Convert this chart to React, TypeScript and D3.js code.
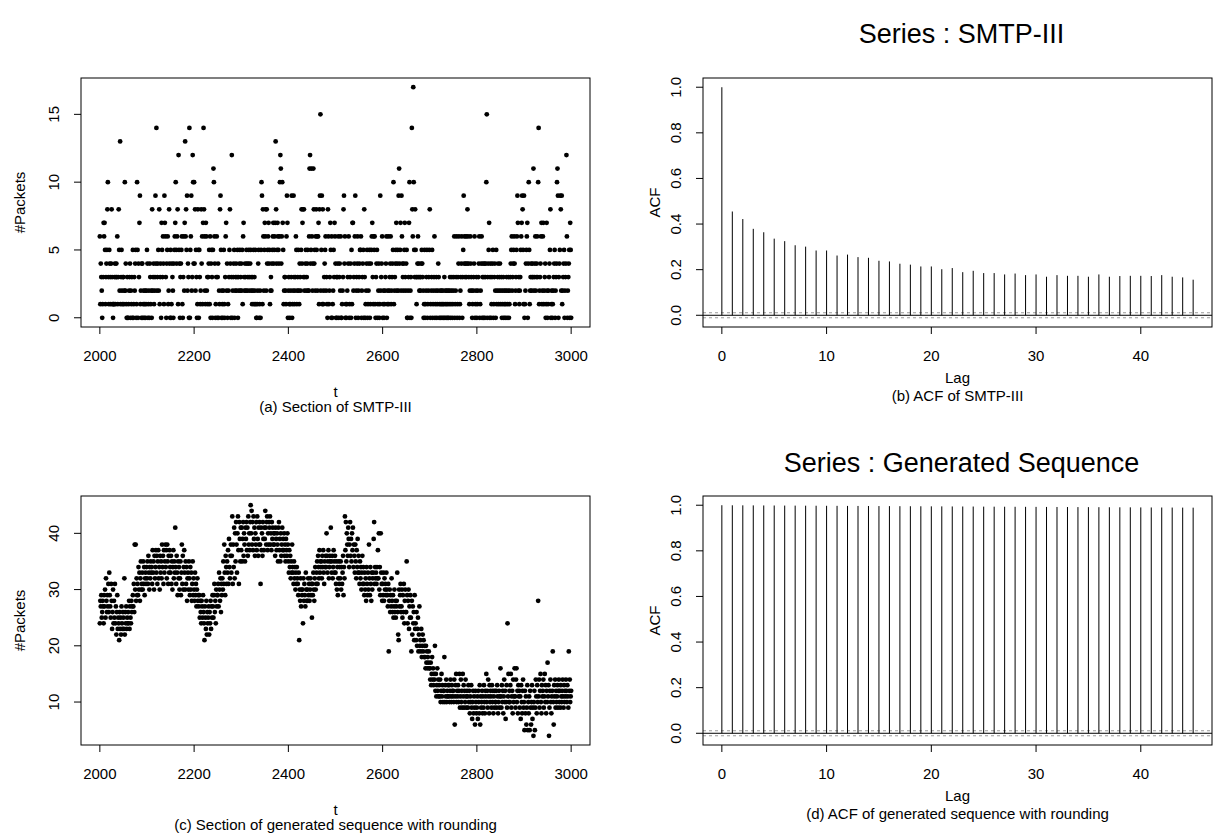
import React from "react";
import * as d3 from "d3";

// ---- data ---------------------------------------------------------------

// first time index of both sections (t = T_START + i)
const T_START = 2000;

// (a) SMTP-III packet counts, t = 2000 … 3000
const smtpSection: number[] = [
  6,1,4,3,2,0,1,3,7,6,
  7,5,1,3,4,5,8,10,3,1,
  5,4,3,1,4,8,3,1,0,1,
  1,3,4,1,3,4,3,6,1,3,
  8,5,2,13,1,3,5,2,1,3,
  3,1,2,10,2,4,1,0,3,0,
  0,1,2,3,4,0,2,1,3,0,
  5,0,1,3,2,4,5,0,1,10,
  5,0,4,3,7,9,1,2,0,4,
  4,0,1,2,0,1,2,0,1,2,
  5,4,0,1,2,0,4,3,1,2,
  0,8,2,3,4,1,2,3,9,4,
  14,2,3,4,5,2,8,1,3,4,
  0,7,5,3,6,4,1,9,7,6,
  3,0,4,5,6,1,2,8,4,0,
  5,0,1,4,3,2,0,4,5,6,
  7,10,5,4,6,8,1,12,5,4,
  0,3,4,5,6,1,0,3,6,2,
  7,13,6,8,5,9,2,4,3,0,
  14,0,5,6,9,2,3,12,10,4,
  10,4,8,2,5,3,0,1,8,5,
  0,5,3,1,2,8,4,6,1,7,
  14,8,6,2,1,7,6,2,3,1,
  3,4,5,1,6,0,4,5,3,0,
  5,11,10,6,4,0,1,3,6,0,
  3,4,0,2,1,8,9,5,0,2,
  1,0,2,5,1,0,3,6,7,2,
  4,0,1,2,3,5,8,4,0,3,
  12,0,2,3,4,5,0,2,3,4,
  2,3,5,
  0,3,2,4,5,2,3,4,2,5,
  1,6,7,3,2,4,3,2,5,4,
  2,3,4,5,3,2,4,5,3,2,
  1,3,2,5,1,3,2,5,1,0,
  0,1,2,4,5,0,1,2,0,5,
  10,9,1,8,6,2,5,7,6,8,
  2,8,4,5,6,7,4,5,1,2,
  3,2,4,5,6,7,4,5,6,7,
  13,8,4,5,7,6,5,4,6,10,
  12,11,4,6,10,7,5,1,2,3,
  3,2,1,6,9,7,0,2,3,1,
  0,1,2,3,9,0,1,2,9,3,
  1,2,3,6,5,1,2,3,5,2,
  1,4,3,2,5,8,4,7,8,3,
  8,2,3,4,5,2,3,4,5,2,
  2,6,11,12,4,5,11,6,2,4,
  11,8,4,5,2,6,8,5,6,2,
  6,7,1,8,9,15,2,5,9,1,
  8,1,2,3,4,5,6,2,3,1,
  0,8,6,1,2,3,7,5,0,6,
  0,1,2,5,3,7,6,4,0,3,
  0,3,4,6,0,3,4,2,6,0,
  0,1,2,3,8,9,4,6,0,1,
  0,1,2,3,4,6,0,1,3,4,
  0,5,1,7,7,2,3,4,6,9,
  0,2,3,4,6,0,2,3,4,5,
  5,6,0,2,3,4,5,0,8,3,
  0,1,2,4,5,0,1,2,4,5,
  0,1,4,5,6,7,3,1,6,5,
  6,1,0,3,4,5,0,1,2,4,
  0,1,9,2,3,4,6,0,1,2,
  0,1,2,3,4,6,0,1,2,6,
  1,2,3,4,6,1,2,3,4,5,
  10,1,2,3,4,5,7,2,4,5,
  2,9,11,4,5,7,2,9,6,4,
  3,2,4,5,7,3,2,4,5,0,
  0,2,3,7,10,0,2,3,0,14,
  8,6,17,10,5,3,8,5,3,1,
  3,4,6,3,4,2,3,
  2,3,4,5,4,3,2,0,1,5,
  0,1,2,3,5,0,1,2,3,5,
  8,0,1,2,3,5,0,1,2,3,
  6,0,1,2,3,0,1,2,4,3,
  0,1,2,0,1,2,0,1,2,0,
  1,3,0,2,1,0,2,1,0,2,
  0,1,2,3,0,1,2,3,0,1,
  2,3,6,0,1,2,3,6,0,1,
  3,4,6,0,1,2,3,4,6,0,
  3,5,9,4,6,3,4,6,3,4,
  8,6,4,3,1,2,6,4,3,2,
  0,1,2,3,4,6,0,1,2,3,
  0,1,2,3,4,6,0,1,2,4,
  6,0,3,4,0,3,4,0,3,4,
  10,15,0,3,4,5,7,0,3,4,
  0,1,3,4,5,0,1,3,4,2,
  0,5,1,2,3,4,1,2,3,4,
  1,2,3,0,1,2,3,0,1,2,
  0,1,2,3,0,1,2,3,0,1,
  2,3,4,5,6,2,3,4,5,6,
  4,1,2,3,5,6,9,7,2,3,
  1,2,3,5,6,7,9,8,5,1,
  9,0,1,2,4,5,6,7,0,4,
  10,5,1,2,3,4,2,3,4,3,
  11,2,3,4,6,2,3,4,6,3,
  10,14,1,2,3,4,6,7,1,2,
  6,7,1,2,3,4,0,1,7,2,
  0,1,2,3,4,5,8,0,1,2,
  0,1,2,3,4,5,0,2,3,4,
  10,11,9,0,3,4,5,9,8,2,
  9,1,2,3,4,5,0,2,3,4,
  12,6,0,2,3,4,5,0,7,5,
  0,
];

// (c) generated sequence with rounding, t = 2000 … 3000
const generatedSection: number[] = [
  24,28,27,29,25,26,28,27,24,29,
  27,30,25,32,28,26,29,27,31,26,
  33,29,27,25,31,28,23,26,30,24,
  28,25,31,24,27,22,26,29,23,25,
  24,21,26,23,25,22,27,24,23,26,
  25,23,32,22,26,24,27,23,25,24,
  26,24,28,23,27,25,24,28,26,27,
  29,27,31,26,38,30,38,28,32,29,
  31,29,34,30,33,28,32,35,30,31,
  33,30,35,31,34,29,32,33,31,34,
  32,35,31,36,33,30,34,32,35,33,
  34,31,37,33,35,30,36,32,34,37,
  33,36,31,35,37,32,34,30,36,33,
  35,32,38,34,36,31,37,33,35,38,
  34,37,32,38,35,31,36,33,37,34,
  33,36,31,35,30,34,37,32,35,33,
  41,34,31,36,33,29,35,32,34,30,
  32,35,29,33,38,31,36,30,34,37,
  33,30,35,31,34,28,32,33,30,35,
  32,29,34,30,33,28,31,35,29,32,
  30,28,33,29,31,27,30,32,28,29,
  27,29,25,28,26,24,28,27,25,29,
  26,24,21,27,25,23,28,22,26,24,
  25,27,22,26,24,28,23,27,25,29,
  27,25,29,31,26,28,24,30,27,29,
  29,31,27,33,30,28,32,26,31,29,
  32,30,35,31,38,33,29,36,34,31,
  35,33,37,31,39,34,32,36,38,33,
  36,43,31,38,34,41,32,40,35,42,
  38,33,40,43,37,31,42,39,35,41,
  37,41,35,39,42,36,40,38,35,41,
  39,42,37,41,36,43,38,40,37,42,
  45,40,44,38,42,37,43,39,41,36,
  40,38,42,37,43,39,36,41,38,42,
  38,31,41,37,40,36,42,39,37,41,
  39,44,41,38,42,43,37,40,38,42,
  41,43,38,40,37,42,39,41,38,40,
  38,40,36,41,39,37,40,38,35,41,
  42,37,39,35,40,36,38,41,37,39,
  37,40,36,38,35,39,37,36,40,38,
  35,33,37,34,36,32,35,33,38,34,
  33,31,35,32,34,30,33,31,34,32,
  31,29,33,21,30,28,32,27,30,29,
  30,24,32,28,31,29,27,33,30,28,
  30,28,32,29,31,28,30,32,29,31,
  25,31,29,33,30,28,32,34,30,31,
  33,35,31,36,34,32,37,33,35,34,
  35,32,36,34,37,33,31,35,34,36,
  34,40,36,33,35,37,32,34,36,35,
  41,35,33,36,32,34,37,35,33,36,
  33,31,35,30,34,29,32,35,31,34,
  32,35,30,34,31,33,36,29,34,32,
  43,37,42,35,40,38,36,41,39,34,
  38,42,36,39,35,40,37,41,34,38,
  36,33,38,35,32,37,34,39,33,36,
  33,31,35,32,34,30,33,36,31,34,
  31,29,33,30,32,28,34,31,29,33,
  30,38,32,29,34,31,28,33,30,32,
  33,39,42,31,34,32,33,31,34,32,
  37,32,40,30,34,29,40,33,31,28,
  31,29,33,28,32,30,31,29,33,30,
  29,27,31,19,28,30,26,29,27,32,
  28,26,29,25,27,30,26,28,25,27,
  28,33,26,22,21,30,27,29,31,26,
  27,30,25,29,26,31,24,28,30,26,
  26,35,29,24,28,30,23,27,25,29,
  25,19,28,22,27,24,26,21,29,23,
  24,21,26,20,23,25,19,22,27,20,
  21,19,23,18,20,22,19,21,18,20,
  18,16,20,17,19,16,18,17,19,16,
  16,14,17,13,15,18,14,16,13,15,
  14,20,12,15,11,13,16,12,14,11,
  13,11,14,10,12,15,11,13,10,12,
  12,18,10,13,11,14,10,12,11,13,
  11,13,10,12,14,11,10,13,12,11,
  12,10,14,6,11,13,15,10,12,11,
  13,10,12,15,9,11,14,10,12,9,
  15,11,13,9,12,10,14,11,9,12,
  11,9,13,10,12,8,11,10,13,9,
  7,10,12,8,11,9,6,12,10,8,
  9,11,7,12,10,8,13,6,11,9,
  10,12,8,11,9,13,10,8,12,11,
  15,10,12,9,14,11,8,13,10,12,
  11,9,13,10,12,8,11,9,12,10,
  10,12,9,13,11,8,10,12,9,11,
  16,11,9,13,10,12,8,11,14,10,
  12,7,10,13,9,24,11,15,10,12,
  10,13,15,9,11,12,8,14,10,11,
  16,11,9,14,16,10,12,8,13,11,
  12,9,11,7,13,10,8,12,14,9,
  10,5,12,8,11,6,9,13,5,10,
  8,11,5,12,9,6,10,13,7,9,
  4,10,12,5,9,14,11,8,13,10,
  28,11,14,9,12,15,10,8,13,11,
  12,14,9,11,15,10,13,8,12,10,
  17,11,13,4,9,12,14,10,8,11,
  12,19,10,6,13,11,14,9,12,10,
  11,13,9,12,14,10,12,9,13,11,
  10,12,14,11,9,13,10,12,11,14,
  12,10,13,11,9,19,12,14,10,11,
  12,
];

// (b) sample autocorrelation of SMTP-III, lags 0 … 45
const smtpAcf: number[] = [
  1.0, 0.455, 0.422, 0.379, 0.364, 0.336, 0.325, 0.307, 0.301, 0.284,
  0.284, 0.262, 0.266, 0.255, 0.252, 0.239, 0.236, 0.226, 0.222, 0.214,
  0.214, 0.202, 0.207, 0.189, 0.195, 0.185, 0.185, 0.179, 0.183, 0.176,
  0.179, 0.169, 0.176, 0.173, 0.173, 0.169, 0.179, 0.169, 0.172, 0.173,
  0.173, 0.172, 0.176, 0.169, 0.166, 0.156,
];

// (d) sample autocorrelation of the generated sequence, lags 0 … 45
const generatedAcf: number[] = [
  1.0, 0.9997, 0.9995, 0.9993, 0.999, 0.9988, 0.9985, 0.9983, 0.998, 0.9978,
  0.9975, 0.9973, 0.997, 0.9968, 0.9966, 0.9963, 0.9961, 0.9958, 0.9956, 0.9954,
  0.9951, 0.9949, 0.9946, 0.9944, 0.9942, 0.9939, 0.9937, 0.9935, 0.9932, 0.993,
  0.9928, 0.9925, 0.9923, 0.9921, 0.9918, 0.9916, 0.9914, 0.9911, 0.9909, 0.9907,
  0.9904, 0.9902, 0.99, 0.9898, 0.9895, 0.9893,
];

// 95% white-noise band drawn on both correlograms
const ACF_BAND = 0.011;

const sectionTicksA = [0, 5, 10, 15];
const sectionTicksC = [10, 20, 30, 40];
const timeTicks = [2000, 2200, 2400, 2600, 2800, 3000];
const lagTicks = [0, 10, 20, 30, 40];
const acfTicks = [0, 0.2, 0.4, 0.6, 0.8, 1.0];

// ---- styling ------------------------------------------------------------

const FONT = "'Liberation Sans', Arial, Helvetica, sans-serif";
const FS = 15;
const TICK = 7;

type Box = { left: number; right: number; top: number; bottom: number };

// R-style 4% padding of a data range
function padded([lo, hi]: [number, number]): [number, number] {
  const d = (hi - lo) * 0.04;
  return [lo - d, hi + d];
}

function Frame({ box }: { box: Box }) {
  return (
    <rect
      x={box.left}
      y={box.top}
      width={box.right - box.left}
      height={box.bottom - box.top}
      fill="none"
      stroke="#000"
      strokeWidth={1}
    />
  );
}

function XAxis({
  scale,
  ticks,
  box,
  labelY,
}: {
  scale: d3.ScaleLinear<number, number>;
  ticks: number[];
  box: Box;
  labelY: number;
}) {
  return (
    <g>
      {ticks.map((t) => {
        const x = scale(t);
        return (
          <g key={t}>
            <line x1={x} x2={x} y1={box.bottom} y2={box.bottom + TICK} stroke="#000" />
            <text
              x={x}
              y={labelY + FS * 0.36}
              textAnchor="middle"
              fontFamily={FONT}
              fontSize={FS}
            >
              {t}
            </text>
          </g>
        );
      })}
    </g>
  );
}

function YAxis({
  scale,
  ticks,
  box,
  labelX,
  fmt,
}: {
  scale: d3.ScaleLinear<number, number>;
  ticks: number[];
  box: Box;
  labelX: number;
  fmt: (v: number) => string;
}) {
  return (
    <g>
      {ticks.map((t) => {
        const y = scale(t);
        const bx = labelX + FS * 0.36;
        return (
          <g key={t}>
            <line x1={box.left - TICK} x2={box.left} y1={y} y2={y} stroke="#000" />
            <text
              transform={`translate(${bx},${y}) rotate(-90)`}
              textAnchor="middle"
              fontFamily={FONT}
              fontSize={FS}
            >
              {fmt(t)}
            </text>
          </g>
        );
      })}
    </g>
  );
}

function Label({
  x,
  y,
  text,
  rotate,
  size = FS,
}: {
  x: number;
  y: number;
  text: string;
  rotate?: boolean;
  size?: number;
}) {
  const off = size * 0.36;
  return rotate ? (
    <text
      transform={`translate(${x + off},${y}) rotate(-90)`}
      textAnchor="middle"
      fontFamily={FONT}
      fontSize={size}
    >
      {text}
    </text>
  ) : (
    <text x={x} y={y + off} textAnchor="middle" fontFamily={FONT} fontSize={size}>
      {text}
    </text>
  );
}

function SectionPanel({
  values,
  box,
  yTicks,
  caption,
}: {
  values: number[];
  box: Box;
  yTicks: number[];
  caption: string;
}) {
  const tExtent: [number, number] = [T_START, T_START + values.length - 1];
  const x = d3.scaleLinear().domain(padded(tExtent)).range([box.left, box.right]);
  const vExtent = d3.extent(values) as [number, number];
  const y = d3.scaleLinear().domain(padded(vExtent)).range([box.bottom, box.top]);
  const midX = (box.left + box.right) / 2;
  return (
    <g>
      <g>
        {values.map((v, i) => (
          <circle key={i} cx={x(T_START + i)} cy={y(v)} r={2.4} fill="#000" />
        ))}
      </g>
      <Frame box={box} />
      <XAxis scale={x} ticks={timeTicks} box={box} labelY={box.bottom + 29} />
      <YAxis scale={y} ticks={yTicks} box={box} labelX={box.left - 27} fmt={(v) => String(v)} />
      <Label x={box.left - 61} y={(box.top + box.bottom) / 2} text="#Packets" rotate />
      <Label x={midX} y={box.bottom + 65} text="t" />
      <Label x={midX} y={box.bottom + 80} text={caption} />
    </g>
  );
}

function AcfPanel({
  acf,
  box,
  title,
  titleY,
  caption,
}: {
  acf: number[];
  box: Box;
  title: string;
  titleY: number;
  caption: string;
}) {
  const x = d3
    .scaleLinear()
    .domain(padded([0, acf.length - 1]))
    .range([box.left, box.right]);
  const lo = Math.min(-ACF_BAND, d3.min(acf) as number);
  const hi = Math.max(ACF_BAND, d3.max(acf) as number);
  const y = d3.scaleLinear().domain(padded([lo, hi])).range([box.bottom, box.top]);
  const midX = (box.left + box.right) / 2;
  return (
    <g>
      <Label x={midX + 4} y={titleY} text={title} size={27} />
      {[ACF_BAND, -ACF_BAND].map((b) => (
        <line
          key={b}
          x1={box.left}
          x2={box.right}
          y1={y(b)}
          y2={y(b)}
          stroke="#9a9a9a"
          strokeDasharray="3,3"
        />
      ))}
      <line x1={box.left} x2={box.right} y1={y(0)} y2={y(0)} stroke="#000" />
      {acf.map((r, k) => (
        <line key={k} x1={x(k)} x2={x(k)} y1={y(0)} y2={y(r)} stroke="#000" strokeWidth={1} />
      ))}
      <Frame box={box} />
      <XAxis scale={x} ticks={lagTicks} box={box} labelY={box.bottom + 29} />
      <YAxis scale={y} ticks={acfTicks} box={box} labelX={box.left - 27} fmt={(v) => v.toFixed(1)} />
      <Label x={box.left - 48} y={(box.top + box.bottom) / 2} text="ACF" rotate />
      <Label x={midX} y={box.bottom + 51} text="Lag" />
      <Label x={midX} y={box.bottom + 69} text={caption} />
    </g>
  );
}

export default function App() {
  const W = 1214;
  const H = 839;
  return (
    <svg
      width={W}
      height={H}
      viewBox={`0 0 ${W} ${H}`}
      style={{ position: "absolute", left: 0, top: 0, background: "#fff" }}
    >
      <rect x={0} y={0} width={W} height={H} fill="#fff" />
      <SectionPanel
        values={smtpSection}
        box={{ left: 81, right: 590, top: 78, bottom: 327 }}
        yTicks={sectionTicksA}
        caption="(a) Section of SMTP-III"
      />
      <AcfPanel
        acf={smtpAcf}
        box={{ left: 703, right: 1212, top: 78, bottom: 327 }}
        title="Series : SMTP-III"
        titleY={33}
        caption="(b) ACF of SMTP-III"
      />
      <SectionPanel
        values={generatedSection}
        box={{ left: 81, right: 590, top: 496, bottom: 745 }}
        yTicks={sectionTicksC}
        caption="(c) Section of generated sequence with rounding"
      />
      <AcfPanel
        acf={generatedAcf}
        box={{ left: 703, right: 1212, top: 496, bottom: 745 }}
        title="Series : Generated Sequence"
        titleY={462}
        caption="(d) ACF of generated sequence with rounding"
      />
    </svg>
  );
}
